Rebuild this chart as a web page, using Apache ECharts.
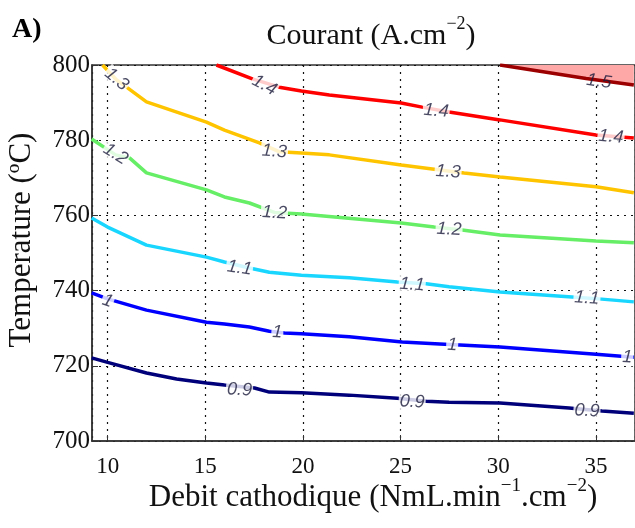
<!DOCTYPE html>
<html><head><meta charset="utf-8">
<script src="https://cdn.jsdelivr.net/npm/echarts@6/dist/echarts.min.js"></script>
<style>html,body{margin:0;padding:0;background:#fff}#c{width:635px;height:528px}</style>
</head><body><div id="c"></div>
<script>
// contour levels (Courant, A.cm-2)
const levels = ['0.9', '1', '1.1', '1.2', '1.3', '1.4', '1.5'];
// contour lines: [debit, temperature]
const c09 = [[9.18,722.1],[10.0,720.9],[11.99,718.1],[13.53,716.5],[15.06,715.4],[15.98,714.9],[17.52,714.1],[18.28,713.0],[19.92,712.8],[22.37,712.2],[24.83,711.4],[26.31,710.6],[27.48,710.3],[30.09,710.1],[33.62,708.8],[35.31,708.0],[36.94,707.4]];
const c10 = [[9.18,739.4],[10.0,737.8],[11.99,734.8],[15.06,731.6],[15.98,731.1],[17.26,730.3],[18.28,729.2],[19.05,728.7],[19.92,728.5],[22.37,727.7],[25.08,726.3],[27.0,725.8],[30.09,725.0],[35.0,723.1],[36.94,722.3]];
const c11 = [[9.18,759.3],[10.0,756.9],[11.99,752.1],[15.06,748.9],[15.98,747.6],[17.26,746.0],[18.28,744.9],[19.92,744.1],[22.37,743.4],[24.83,742.3],[26.31,741.8],[27.48,741.0],[30.09,739.6],[33.77,738.3],[35.15,737.8],[36.94,737.0]];
const c12 = [[9.18,780.3],[10.41,776.1],[11.12,775.3],[11.99,771.3],[15.06,766.8],[15.98,764.9],[17.26,763.3],[18.54,760.8],[19.92,760.4],[25.03,758.0],[26.72,756.9],[28.15,756.1],[30.09,754.8],[35.0,753.2],[36.94,752.7]];
const c13 = [[9.74,800],[10.46,796.0],[11.02,793.9],[11.99,790.2],[15.06,784.8],[15.98,782.7],[17.77,779.3],[18.8,776.9],[19.92,776.6],[21.35,776.1],[25.03,773.4],[26.72,772.3],[28.25,771.3],[30.09,770.2],[35.0,767.6],[36.94,766.0]];
const c14 = [[15.57,800],[17.41,796.3],[18.79,794.1],[19.92,793.1],[21.35,792.0],[25.03,789.9],[26.10,788.8],[27.48,787.5],[30.09,785.4],[35.0,781.4],[36.94,780.6]];
const c15 = [[30.09,800],[34.5,796.4],[36.94,794.7]];
// contour label positions
const lab09 = [[16.75,713.6],[25.59,710.4],[34.54,708.0]];
const lab10 = [[10.0,737.2],[18.69,728.9],[27.64,725.5],[36.6,722.3]];
const lab11 = [[16.75,746.0],[25.59,741.6],[34.54,738.0]];
const lab12 = [[10.41,776.3],[18.54,760.7],[27.48,756.3]];
const lab13 = [[10.46,796.2],[18.54,777.0],[27.43,771.6]];
const lab14 = [[18.03,794.6],[26.82,787.8],[35.77,780.9]];
const lab15 = [[35.15,795.6]];
// y axis ticks
const yTicks = [700, 720, 740, 760, 780, 800];

const lines = [c09, c10, c11, c12, c13, c14, c15];
const labs = [lab09, lab10, lab11, lab12, lab13, lab14, lab15];
const colors = ['#00007a', '#0000ff', '#19d6ff', '#66ee66', '#ffc400', '#ff0000', '#9c0000'];
const rots = [[-3,-3,-3],[-20,-3,-3,-3],[-8,-4,-4],[-32,-3,-3],[-40,-4,-4],[-28,-5,-5],[-8]];

const series = [];
lines.forEach((d, i) => {
  const s = {
    type: 'line', data: d, showSymbol: false, symbol: 'none', silent: true,
    lineStyle: { color: colors[i], width: 3.5 }, z: 2, clip: true
  };
  if (levels[i] === '1.5') s.areaStyle = { color: '#ffa8a8', origin: 'end', opacity: 1 };
  series.push(s);
});
labs.forEach((d, i) => {
  series.push({
    type: 'scatter', symbolSize: 0, silent: true, z: 5,
    data: d.map((p, k) => ({ value: p, label: { rotate: rots[i][k] } })),
    label: {
      show: true, position: 'inside', formatter: levels[i],
      fontFamily: 'Liberation Sans', fontStyle: 'italic', fontSize: 18,
      color: '#1c1c3c', backgroundColor: levels[i] === '1.5' ? 'transparent' : '#fff', padding: [0, 1]
    }
  });
});

const chart = echarts.init(document.getElementById('c'), null, { renderer: 'canvas' });
chart.setOption({
  animation: false,
  backgroundColor: '#fff',
  grid: { left: 92, right: 0, top: 65, bottom: 87, show: true, borderColor: '#333', borderWidth: 1.5, backgroundColor: 'transparent' },
  xAxis: {
    type: 'value', min: 9.2, max: 37, splitNumber: 5,
    axisLine: { lineStyle: { color: '#333', width: 1.5 } },
    axisTick: { inside: true, length: 6, lineStyle: { color: '#333' } },
    axisLabel: { fontFamily: 'Liberation Serif', fontSize: 23, color: '#111', margin: 14, showMinLabel: false, showMaxLabel: false },
    splitLine: { show: true, lineStyle: { type: [2, 5], color: '#111', width: 1.2 } }
  },
  yAxis: {
    type: 'value', min: yTicks[0], max: yTicks[yTicks.length - 1], interval: 20,
    axisLine: { show: true, lineStyle: { color: '#333', width: 1.5 } },
    axisTick: { show: true, inside: true, length: 6, lineStyle: { color: '#333' } },
    axisLabel: { fontFamily: 'Liberation Serif', fontSize: 25, color: '#111', margin: 2 },
    splitLine: { show: true, lineStyle: { type: [2, 5], color: '#111', width: 1.2 } }
  },
  graphic: [
    { type: 'text', x: 12, y: 30, style: { text: 'A)', font: 'bold 28px "Liberation Serif"', fill: '#000', textAlign: 'left', textVerticalAlign: 'middle' } },
    { type: 'text', x: 371, y: 33, style: {
        text: '{n|Courant (A.cm}{s|−2}{n|)}', textAlign: 'center', textVerticalAlign: 'middle', fill: '#111',
        rich: { n: { font: '30px "Liberation Serif"', fill: '#111', lineHeight: 36, verticalAlign: 'bottom' },
                s: { font: '18px "Liberation Serif"', fill: '#111', lineHeight: 36, verticalAlign: 'top' } } } },
    { type: 'text', x: 373, y: 495, style: {
        text: '{n|Debit cathodique (NmL.min}{s|−1}{n|.cm}{s|−2}{n|)}', textAlign: 'center', textVerticalAlign: 'middle', fill: '#111',
        rich: { n: { font: '31px "Liberation Serif"', fill: '#111', lineHeight: 36, verticalAlign: 'bottom' },
                s: { font: '19px "Liberation Serif"', fill: '#111', lineHeight: 36, verticalAlign: 'top' } } } },
    { type: 'text', x: 22, y: 240, rotation: Math.PI / 2, style: {
        text: 'Temperature (ºC)', font: '31px "Liberation Serif"', fill: '#111', textAlign: 'center', textVerticalAlign: 'middle' } }
  ],
  series: series
});
</script>
</body></html>
